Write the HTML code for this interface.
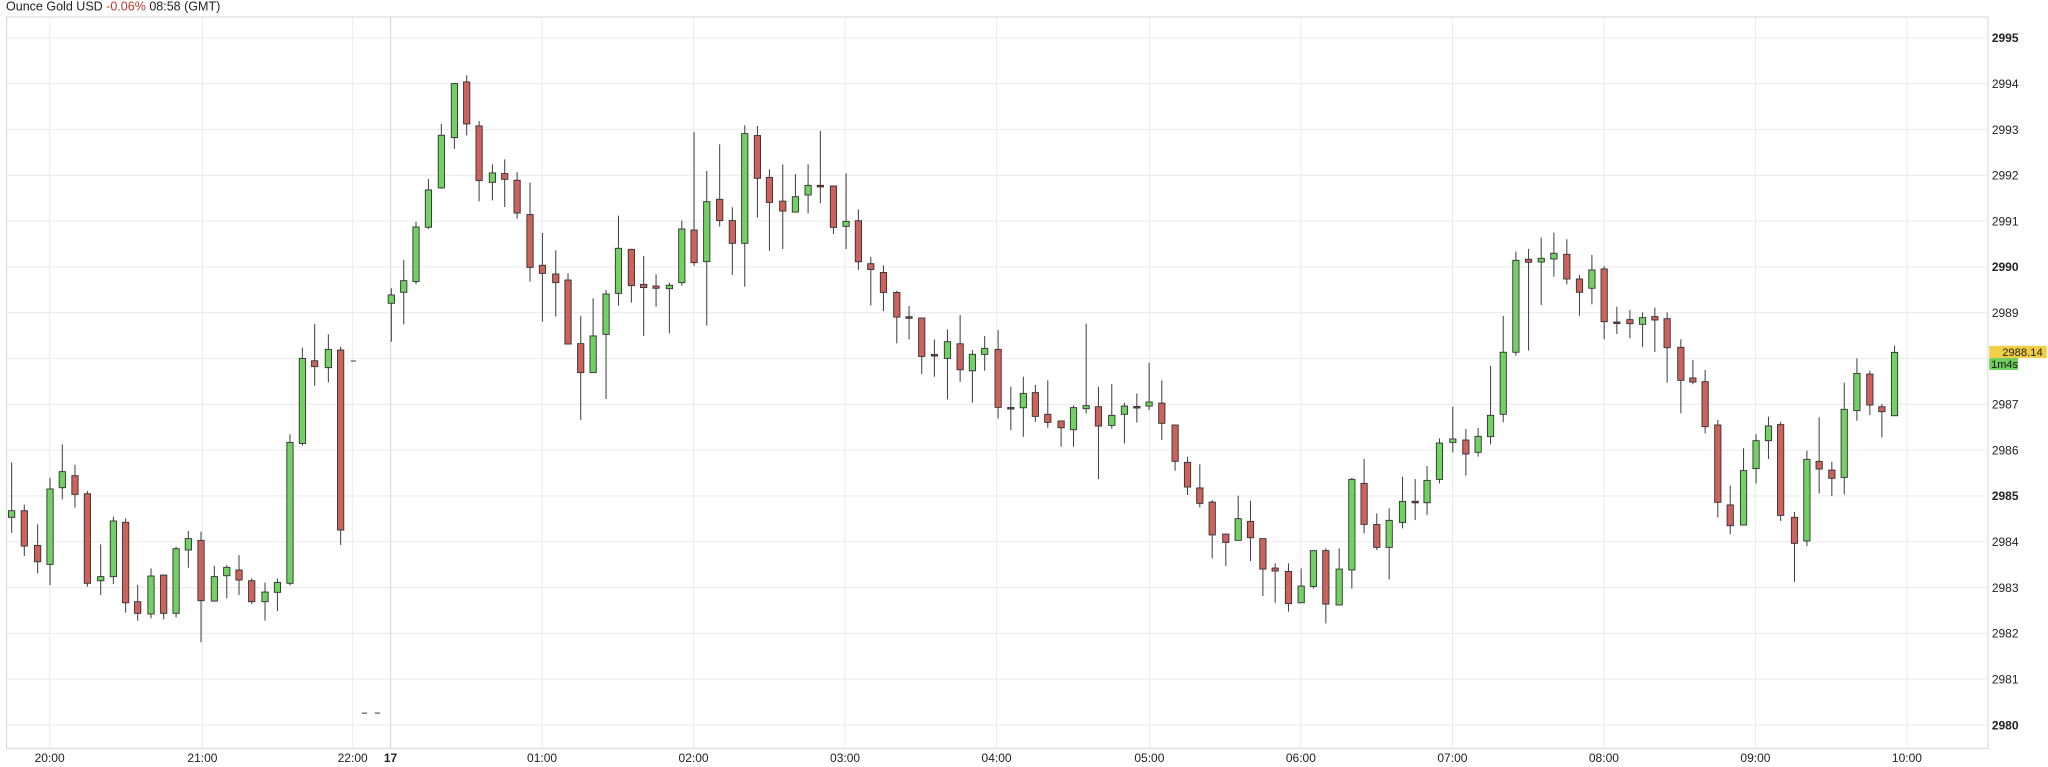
<!DOCTYPE html>
<html><head><meta charset="utf-8">
<style>
html,body{margin:0;padding:0;background:#fff;width:2048px;height:767px;overflow:hidden}
svg{display:block}
text{font-family:"Liberation Sans",Arial,sans-serif}
</style></head>
<body>
<svg id="c" width="2048" height="767" viewBox="0 0 1568 587.24" xmlns="http://www.w3.org/2000/svg">
<text x="4.6" y="8.2" font-size="9.6" fill="#222">Ounce Gold USD <tspan fill="#c0392b">-0.06%</tspan> 08:58 (GMT)</text>
<rect x="5" y="13" width="1517" height="560" fill="#fff" stroke="#d8d8d8" stroke-width="0.8"/>
<g id="grid"></g>
<g id="cd"></g>
<g id="lbl"></g>
<line x1="268.5" y1="276.4" x2="272.5" y2="276.4" stroke="#555" stroke-width="0.9"/>
<line x1="277" y1="546" x2="281" y2="546" stroke="#555" stroke-width="0.9"/>
<line x1="287" y1="546" x2="291" y2="546" stroke="#555" stroke-width="0.9"/>
<rect x="1523" y="264.8" width="44" height="9.4" fill="#f0cf45"/>
<text x="1564" y="272.6" font-size="8.6" text-anchor="end" fill="#222">2988.14</text>
<rect x="1523" y="274.2" width="22" height="9" fill="#6ccf5a"/>
<text x="1524.5" y="281.8" font-size="8.4" fill="#111">1m4s</text>
</svg>
<script>
var NS="http://www.w3.org/2000/svg";
function el(p,t,a,txt){var e=document.createElementNS(NS,t);for(var k in a)e.setAttribute(k,a[k]);if(txt!==undefined)e.textContent=txt;p.appendChild(e);return e;}
var grid=document.getElementById('grid'),cd=document.getElementById('cd'),lbl=document.getElementById('lbl');
for(var k=0;k<=15;k++){var y=29+k*35.07;el(grid,'line',{x1:5,x2:1522,y1:y,y2:y,stroke:'#ececec','stroke-width':0.8});
 var p=2995-k;el(lbl,'text',{x:1525,y:y+3.3,'font-size':9.2,fill:'#222','font-weight':(p%5==0?'bold':'normal')},String(p));}
var hx=[[38,'20:00'],[155,'21:00'],[270,'22:00'],[299,'17'],[415,'01:00'],[531,'02:00'],[647,'03:00'],[763,'04:00'],[880,'05:00'],[996,'06:00'],[1112,'07:00'],[1228,'08:00'],[1344,'09:00'],[1460,'10:00']];
hx.forEach(function(h){el(grid,'line',{x1:h[0],x2:h[0],y1:13,y2:573,stroke:h[1]=='17'?'#d6d6d6':'#ececec','stroke-width':0.8});
 el(lbl,'text',{x:h[0],y:583.5,'font-size':9.2,fill:'#222','text-anchor':'middle','font-weight':h[1]=='17'?'bold':'normal'},h[1]);});
var D=[
[8.9,'g',391,396.1,354,407.9],[18.6,'r',391,418.1,386.4,425.7],[28.8,'r',417.6,430.1,401.5,439],[38.3,'g',374.4,432.1,365.7,447.9],
[47.7,'g',361.1,373.4,340.2,382.3],[57.4,'r',364.2,378.5,355.8,388.7],[66.9,'r',378,446.6,376,449.2],[77.1,'g',441.5,444.6,416.8,455.6],
[86.8,'g',398.9,441.5,395.6,447.2],[96.2,'r',399.9,461.5,396.9,469.1],[105.4,'r',460.7,469.6,447.9,475.2],[115.6,'g',441,470.1,435.2,473.4],
[125.3,'r',440.3,469.6,440.3,474.2],[134.8,'g',420.1,469.6,418.6,472.7],[144.2,'g',412.4,421.1,406.6,434.7],[153.9,'r',413.7,459.9,407.1,491.8],
[164.1,'g',441.5,460.2,433.1,460.7],[173.6,'g',434.4,440.8,432.6,458.1],[183,'r',436.4,444.1,425,455.6],[192.7,'r',444.6,460.7,442.8,462.5],
[202.9,'g',453.3,460.7,446.1,475.2],[212.4,'g',445.9,453.5,442.8,467.8],[222,'g',338.7,446.6,332.6,448.4],[231.5,'g',274.4,339.5,266.2,341.2],
[240.9,'r',276.2,280.7,248.1,295.3],[251.4,'g',267.5,281.5,256,292.7],[260.8,'r',268,405.8,265.4,417.3],
[299.6,'g',225.8,232.2,220.7,261.6],[309.1,'g',214.9,223.8,199,248.3],[318.5,'g',173.8,215.6,169.7,217.7],[328,'g',145.4,174,137,175.3],
[337.9,'g',103.6,143.9,94.9,144.5],[347.9,'g',64,105.4,63.5,114],[357.3,'r',62.7,94.9,57.6,103.6],[366.8,'r',96.4,138.3,92.6,154.1],
[377,'g',132.4,139.6,125.8,153.4],[386.4,'r',132.9,137.3,122,158.5],[395.9,'r',138,163.1,131.7,167.4],[405.8,'r',164.3,204.7,139.8,215.6],
[415.3,'r',203.1,209.3,178.4,246.3],[425.5,'r',209.8,216.4,191.6,242.4],[434.9,'r',214.4,263.4,209.3,263.6],[444.6,'r',263.1,285.3,241.9,321.5],
[454.1,'g',257.2,285.3,228.4,285.6],[464,'g',225.1,256,222,305.5],[473.5,'g',190.1,224.6,165.1,234],[483.4,'r',190.9,218.7,190.5,231.7],
[492.8,'r',217.7,220.2,196,257.2],[502.3,'r',219,220.7,210,234.8],[512.5,'g',218.4,221,216.4,255.2],[522,'g',175.3,216.4,168.9,218.7],
[531.4,'r',176.1,201.1,101.3,203.6],[541.1,'g',154.4,200.3,130.9,249.3],[551,'r',152.6,168.9,110.5,173.5],[560.7,'r',168.9,186.3,158.7,210.5],
[570.2,'g',102.3,186.3,95.9,219.5],[579.9,'r',103.8,136.5,96.4,166.6],[589.1,'r',135.8,155,129.7,192],[599.3,'r',154,161.6,125.9,190.7],
[609,'g',150.6,162.4,133.3,162.6],[618.7,'g',141.9,149.3,125.9,163.4],[628.1,'d',141.9,142.4,100.1,155.7],[638.1,'r',142.4,174.1,142.2,179.2],
[647.8,'g',169.5,173.3,132.8,190.7],[657.2,'r',169,200.4,160.3,206.8],[666.7,'r',201.9,206.3,196.6,233.8],[676.4,'r',208.6,223.9,203.2,238.2],
[686.6,'r',223.9,242.8,222.6,262.9],[696,'d',242.5,243,234.3,259.9],[705.7,'r',243.5,272.9,243.3,286.4],[715.4,'d',271.4,271.9,259.9,288.4],
[725.4,'g',261.6,274.4,252.2,305.8],[735.1,'r',263.2,283.1,241.2,292.3],[744.5,'g',271.3,283.9,268,308.3],[753.9,'g',266.7,271.3,257.3,283.9],
[764.2,'r',267.5,311.9,252.7,320.4],[773.9,'d',312,312.5,296.1,329.3],[783.5,'g',301.2,312.2,288.4,334.4],[792.7,'r',300.6,318.8,294.8,322.9],
[802.2,'r',317.2,323.4,291.2,327.5],[812.4,'r',322.3,327.5,322,342],[821.9,'g',312.1,329,310.4,342],[831.6,'g',310.6,312.9,247.8,316.5],
[841,'r',311.4,326.2,296.1,366.8],[851.2,'g',318,325.7,294,328.2],[860.9,'g',310.9,317.2,308.3,339.5],[870.4,'d',311.2,311.7,301.2,323.6],
[879.8,'g',307.8,310.9,277.7,313.9],[889.5,'r',308.6,324.1,291.2,336.9],[899.7,'r',325.4,353.2,325.2,360.4],[909.2,'r',354,372.9,349.7,379],
[918.6,'r',373.6,385.4,355.5,388.5],[928.1,'r',384.4,409.6,382.8,427.5],[938.5,'r',408.9,415.3,408.7,433.4],[948,'g',397.1,413.7,379.5,414],
[957.4,'r',399.2,411.7,383.4,429.5],[966.9,'r',412.4,435.7,412.2,456.3],[976.3,'r',434.9,437.2,431.3,461.5],[986.5,'r',437.5,462.2,431.3,468.3],
[996.2,'g',448.7,461.5,435.2,461.8],[1005.6,'g',421.6,449,421.4,450.7],[1015.1,'r',421.6,462.5,419.8,477.3],[1025.3,'g',435.7,463.2,419.8,463.5],
[1035,'g',367,436.4,365.7,450.7],[1044.4,'r',370.1,401.5,351.4,408.4],[1054.1,'r',401.5,419.1,393,421.1],[1063.6,'g',398.4,419.1,389.2,443.6],
[1073.8,'g',383.9,400,365,404.5],[1083.5,'d',383.8,384.3,366.8,398.2],[1092.6,'g',367.8,384.9,356.8,394.3],[1102.1,'g',339.2,367,335.6,370.1],
[1112.3,'g',336.1,338.7,311.3,346.3],[1122.3,'r',336.9,347.6,328.4,364.2],[1131.7,'g',334.1,346.3,327.7,349.6],[1141.2,'g',318,334.3,280,340.2],
[1150.9,'g',269.7,317.2,241.9,323.3],[1160.6,'g',199.3,269.7,192.7,272.3],[1170.3,'r',198.5,200.8,190.6,268.5],[1180,'g',197.8,200.6,182,233.5],
[1189.7,'g',193.9,198.3,178.1,211.8],[1199.6,'r',194.7,213.6,183.2,217.7],[1209.3,'r',213.6,223.8,210.5,241.7],[1218.8,'g',206.7,220.7,195.2,233],
[1228.2,'r',205.9,246.3,203.6,259.8],[1237.9,'d',246.5,247,234.8,255.7],[1247.9,'r',244.7,247.8,237.3,259],[1257.6,'g',243.2,248.3,239.1,265.7],
[1267,'r',242.4,245,235.5,269.5],[1276.4,'r',244,266.2,239.1,293],[1286.9,'r',265.9,291.2,259.8,316.4],[1296.1,'r',289.4,292.5,275.6,294.2],
[1305.5,'r',292.2,326.7,283.3,331.8],[1315.2,'r',325.4,384.6,321.6,396.1],[1324.7,'r',386.6,402.5,371.8,409.1],[1334.9,'g',360.3,402,343.2,402.3],
[1344.5,'g',337.4,358.8,332.5,370.1],[1354,'g',326.1,337.4,319,351.4],[1363.3,'r',325.1,394.6,322.8,398.9],[1373.9,'r',396.1,416,392,445.4],
[1383.4,'g',351.7,414.2,345.1,418.1],[1392.8,'r',353.2,359.1,319.5,377.8],[1402.5,'r',359.9,366.2,353.5,379.8],[1412,'g',313.4,365.5,293,378.5],
[1421.7,'g',285.9,314.4,274.4,322.1],[1431.6,'r',286.4,310.1,283.8,317.8],[1440.8,'r',311.4,315.2,309.3,334.9],[1450.5,'g',269.8,318.3,264.7,318.5]
];
var W=4.8;
D.forEach(function(c){var x=c[0];
 el(cd,'line',{x1:x,x2:x,y1:c[4],y2:c[5],stroke:'#444','stroke-width':0.8});
 var h=Math.max(c[3]-c[2],1.2);
 var f=c[1]=='g'?'#72d163':(c[1]=='r'?'#cd625c':'#8a4a46');
 el(cd,'rect',{x:x-W/2,y:c[2],width:W,height:h,fill:f,stroke:'#333','stroke-width':0.7});
});
</script>
</body></html>
